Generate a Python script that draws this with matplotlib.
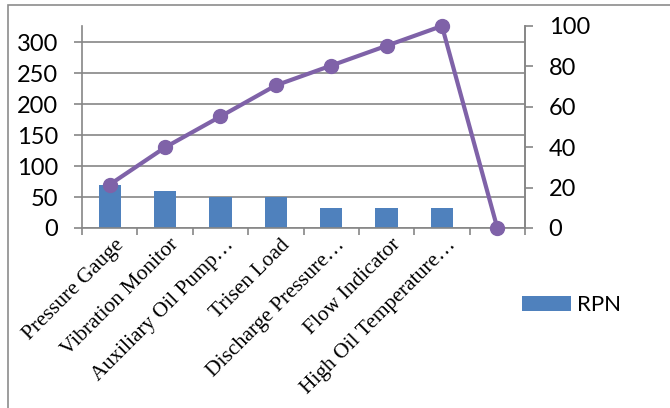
import matplotlib.pyplot as plt
from matplotlib.patches import Rectangle

# RPN per component and cumulative share (%)
components = ["Pressure Gauge", "Vibration Monitor", "Auxiliary Oil Pump\u2026",
              "Trisen Load", "Discharge Pressure\u2026", "Flow Indicator",
              "High Oil Temperature\u2026", ""]
rpn = [70, 60, 50, 50, 32, 32, 32, 0]
cumulative_pct = [21.5, 39.9, 55.2, 70.6, 80.4, 90.2, 100, 0]
left_ticks = [0, 50, 100, 150, 200, 250, 300]
right_ticks = [0, 20, 40, 60, 80, 100]

bar_color = "#4F81BD"
line_color = "#7F62A8"
axis_gray = "#868686"

fig = plt.figure(figsize=(6.70, 4.08), dpi=100)
ax = fig.add_axes([0.1224, 0.4412, 0.6612, 0.4951])

x = list(range(len(components)))
ax.bar(x, rpn, width=0.4, color=bar_color, zorder=2, label="RPN")
ax.set_xlim(-0.5, len(components) - 0.5)
ax.set_ylim(0, 326)
ax.set_yticks(left_ticks)
ax.yaxis.grid(True, color=axis_gray, linewidth=1.2, zorder=0)
ax.set_axisbelow(True)

ax.set_xticks([i - 0.5 for i in range(len(components) + 1)])
ax.set_xticklabels([])
ax.tick_params(axis="x", length=5, width=1.2, color=axis_gray)
ax.tick_params(axis="y", length=6, width=1.2, color=axis_gray, pad=11,
               labelsize=17)
for lbl in ax.get_yticklabels():
    lbl.set_fontfamily("Lato")

ax.spines["top"].set_visible(False)
for side in ["left", "bottom", "right"]:
    ax.spines[side].set_color(axis_gray)
    ax.spines[side].set_linewidth(1.2)

# rotated category names under each slot
for i, name in enumerate(components):
    ax.text(i + 0.08, -12, name, rotation=45, rotation_mode="anchor",
            ha="right", va="top", fontsize=15.5, family="Liberation Serif",
            transform=ax.transData)

ax2 = ax.twinx()
ax2.plot(x, cumulative_pct, color=line_color, linewidth=3, marker="o",
         markersize=10, zorder=3, clip_on=False)
ax2.set_ylim(0, 100)
ax2.set_yticks(right_ticks)
ax2.tick_params(axis="y", length=6, width=1.2, color=axis_gray, pad=11,
                labelsize=17)
for lbl in ax2.get_yticklabels():
    lbl.set_fontfamily("Lato")
for side in ["top", "left", "bottom"]:
    ax2.spines[side].set_visible(False)
ax2.spines["right"].set_color(axis_gray)
ax2.spines["right"].set_linewidth(1.2)

# legend for the bar series only
fig.legend(handles=ax.containers[0].patches[:1], labels=["RPN"],
           loc="center left", bbox_to_anchor=(522 / 670, 1 - 305 / 408),
           frameon=False, borderpad=0, borderaxespad=0,
           handlelength=2.2, handleheight=0.64, handletextpad=0.28,
           prop={"family": "Lato", "size": 16})

# chart frame
fig.patches.append(Rectangle((8 / 670, -0.05), 1.0, 1 - 5 / 408 + 0.05,
                             transform=fig.transFigure, fill=False,
                             edgecolor="#8C8C8C", linewidth=1.2))

fig.savefig("out.png", dpi=100)
